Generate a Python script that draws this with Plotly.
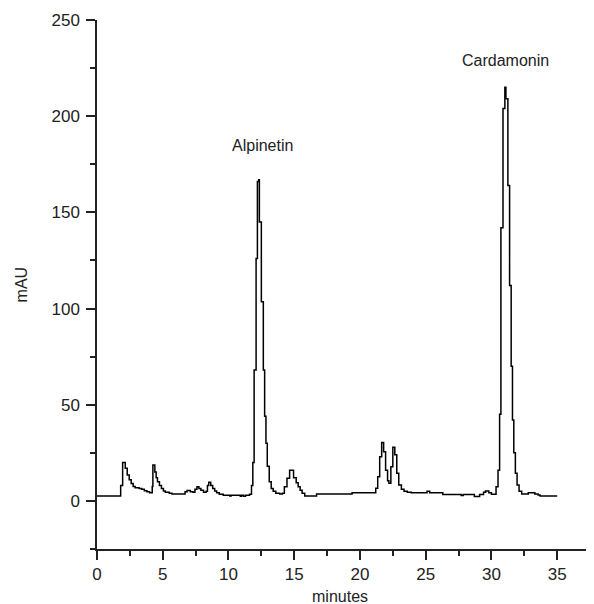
import plotly.graph_objects as go

# Chromatogram (minutes, mAU)
minutes = [0.0, 1.75, 1.8, 1.95, 2.15, 2.3, 2.45, 2.6, 2.75, 2.9, 3.2, 3.4, 3.6, 3.8, 4.0,
           4.2, 4.25, 4.4, 4.5, 4.6, 4.75, 4.9, 5.05, 5.2, 5.5, 5.7, 6.7, 6.85, 7.1, 7.3,
           7.45, 7.6, 7.75, 7.9, 8.1, 8.3, 8.4, 8.5, 8.65, 8.8, 8.95, 9.1, 9.3, 9.6, 10.1,
           10.2, 10.9, 11.0, 11.15, 11.3, 11.6, 11.75, 11.85, 11.95, 12.1, 12.2, 12.3, 12.35,
           12.5, 12.65, 12.75, 12.85, 12.95, 13.1, 13.25, 13.4, 13.6, 13.9, 14.1, 14.25,
           14.45, 14.65, 14.95, 15.15, 15.3, 15.45, 15.6, 15.8, 16.7, 19.4, 21.2, 21.35,
           21.5, 21.65, 21.8, 21.95, 22.1, 22.2, 22.35, 22.5, 22.65, 22.8, 22.95, 23.15,
           23.35, 23.6, 23.9, 25.1, 25.3, 26.3, 27.7, 27.85, 28.7, 29.1, 29.4, 29.55, 29.8,
           30.0, 30.35, 30.5, 30.62, 30.72, 30.88, 31.02, 31.1, 31.25, 31.38, 31.5, 31.6,
           31.7, 31.82, 31.95, 32.1, 32.3, 32.8, 33.3, 33.55, 33.7, 35.0]
mau = [2.6, 2.6, 8.0, 20.0, 17.0, 13.5, 11.0, 9.0, 7.5, 6.8, 6.5, 6.0, 5.3, 4.8, 4.3,
       7.5, 18.7, 15.0, 12.0, 10.0, 8.0, 6.5, 5.2, 4.5, 4.0, 3.6, 4.8, 5.4, 4.8, 4.5,
       6.0, 7.4, 6.5, 5.5, 4.5, 5.0, 8.0, 9.7, 8.0, 6.5, 5.2, 4.2, 3.4, 3.0, 2.5,
       3.0, 2.4, 3.0, 2.4, 3.0, 3.4, 8.0, 20.0, 68.0, 126.0, 166.0, 167.0, 145.0,
       103.5, 68.0, 44.0, 30.0, 18.0, 10.0, 6.5, 5.0, 4.0, 3.6, 4.0, 7.4,
       11.8, 16.0, 12.0, 9.5, 7.4, 5.5, 4.0, 2.6, 3.6, 4.3, 6.6, 12.6,
       23.0, 30.3, 25.6, 16.0, 10.5, 9.2, 17.8, 27.9, 24.0, 14.4, 8.3, 6.0,
       5.0, 4.5, 4.3, 5.0, 4.3, 3.3, 2.8, 3.3, 2.3, 3.3, 4.5, 5.2, 4.3,
       3.5, 7.4, 16.0, 45.0, 142.0, 204.0, 215.0, 209.0, 164.0, 112.0, 70.0, 42.0,
       25.0, 14.4, 8.3, 5.0, 3.6, 4.3, 3.6, 3.1, 2.6, 2.6]

peak_names = ["Alpinetin", "Cardamonin"]
peak_label_x = [12.55, 31.1]
peak_label_y = [185, 229]

x_ticks = [0, 5, 10, 15, 20, 25, 30, 35]
y_ticks = [0, 50, 100, 150, 200, 250]

FONT = "Liberation Sans, Arial, Helvetica, sans-serif"
INK = "#222222"

fig = go.Figure()
fig.add_trace(go.Scatter(x=minutes, y=mau, mode="lines",
                         line=dict(color="black", width=1.5, shape="hv"),
                         hoverinfo="skip", showlegend=False))

for name, lx, ly in zip(peak_names, peak_label_x, peak_label_y):
    fig.add_annotation(x=lx, y=ly, text=name, showarrow=False,
                       font=dict(family=FONT, size=16, color=INK))

fig.add_annotation(xref="paper", yref="paper", x=0.488, y=-0.089, text="minutes",
                   showarrow=False, yanchor="middle",
                   font=dict(family=FONT, size=16, color=INK))
fig.add_annotation(xref="paper", yref="paper", x=-0.151, y=0.5, text="mAU",
                   showarrow=False, textangle=-90, xanchor="center",
                   font=dict(family=FONT, size=16, color=INK))

axis_common = dict(showgrid=False, zeroline=False, showline=True, linecolor=INK,
                   linewidth=1.5, ticks="outside", tickcolor=INK, tickwidth=1.5,
                   ticklen=9, tickfont=dict(family=FONT, size=17, color=INK))

fig.update_xaxes(range=[0, 37.8], tickvals=x_ticks, ticktext=[str(v) for v in x_ticks],
                 minor=dict(ticks="outside", ticklen=5, tickwidth=1.5, tickcolor=INK, dtick=2.5, tick0=0),
                 ticklabelstandoff=0, **axis_common)
fig.update_yaxes(range=[-25, 250], tickvals=y_ticks, ticktext=[str(v) for v in y_ticks],
                 minor=dict(ticks="outside", ticklen=5, tickwidth=1.5, tickcolor=INK, dtick=25, tick0=0),
                 ticklabelstandoff=3, **axis_common)

# page body has an 8px default margin, so the figure is sized/offset to compensate
fig.update_layout(width=586, height=596, margin=dict(l=89, r=0, t=12, b=55),
                  plot_bgcolor="white", paper_bgcolor="white")

fig.write_html("out.html")
